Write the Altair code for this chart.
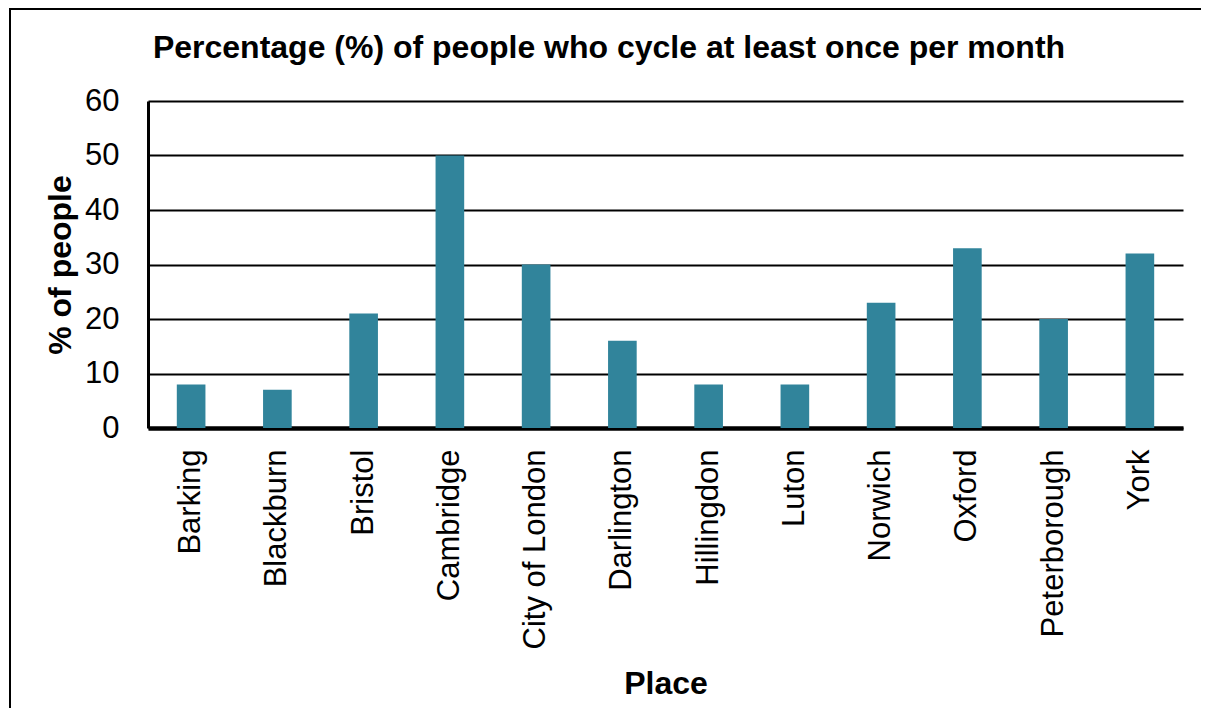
import altair as alt
import pandas as pd

places = ["Barking", "Blackburn", "Bristol", "Cambridge", "City of London", "Darlington",
          "Hillingdon", "Luton", "Norwich", "Oxford", "Peterborough", "York"]
percent = [8, 7, 21, 50, 30, 16, 8, 8, 23, 33, 20, 32]

df = pd.DataFrame({"Place": places, "Percent": percent})

FONT = "Liberation Sans"
W, H = 1035, 327

bars = alt.Chart(df).mark_bar(color="#31849B").encode(
    x=alt.X("Place:N", sort=places,
            scale=alt.Scale(paddingInner=0.668, paddingOuter=0.334),
            axis=alt.Axis(title="Place", labelAngle=-90, labelAlign="right",
                          labelBaseline="middle", labelPadding=21, labelFontSize=31,
                          labelFont=FONT, labelColor="#000", labelLimit=0,
                          ticks=False, tickSize=0,
                          domainColor="#000", domainWidth=4.5,
                          titleFont=FONT, titleFontSize=32, titleFontWeight="bold",
                          titleColor="#000", titleX=W / 2, titleY=265,
                          titleBaseline="alphabetic", titleAlign="center")),
    y=alt.Y("Percent:Q",
            scale=alt.Scale(domain=[0, 60], nice=False),
            axis=alt.Axis(title="% of people", values=[0, 10, 20, 30, 40, 50, 60],
                          labelFontSize=31, labelFont=FONT, labelColor="#000",
                          labelPadding=29, ticks=False, tickSize=0,
                          domainColor="#000", domainWidth=3,
                          grid=True, gridColor="#000", gridWidth=2,
                          titleFont=FONT, titleFontSize=32, titleFontWeight="bold",
                          titleColor="#000", titleX=-78, titleY=H / 2,
                          titleAngle=-90, titleBaseline="alphabetic", titleAlign="center")),
)

one = pd.DataFrame({"k": [0]})

frame_top = alt.Chart(one).mark_rect(color="#000").encode(
    x=alt.value(-139), x2=alt.value(W + 18), y=alt.value(-93), y2=alt.value(-91)
)
frame_left = alt.Chart(one).mark_rect(color="#000").encode(
    x=alt.value(-139), x2=alt.value(-137), y=alt.value(-93), y2=alt.value(H + 280)
)

title = alt.Chart(one).mark_text(
    text="Percentage (%) of people who cycle at least once per month",
    font=FONT, fontSize=32, fontWeight="bold", color="#000",
    align="center", baseline="alphabetic"
).encode(x=alt.value(461), y=alt.value(-43))

chart = alt.layer(frame_top, frame_left, bars, title).properties(
    width=W, height=H,
    autosize=alt.AutoSizeParams(type="none"),
    padding={"left": 140, "top": 93, "right": 18, "bottom": 280},
    background="#ffffff",
).configure_view(stroke=None)

chart.save("out.html", embed_options={"renderer": "svg", "actions": False})
